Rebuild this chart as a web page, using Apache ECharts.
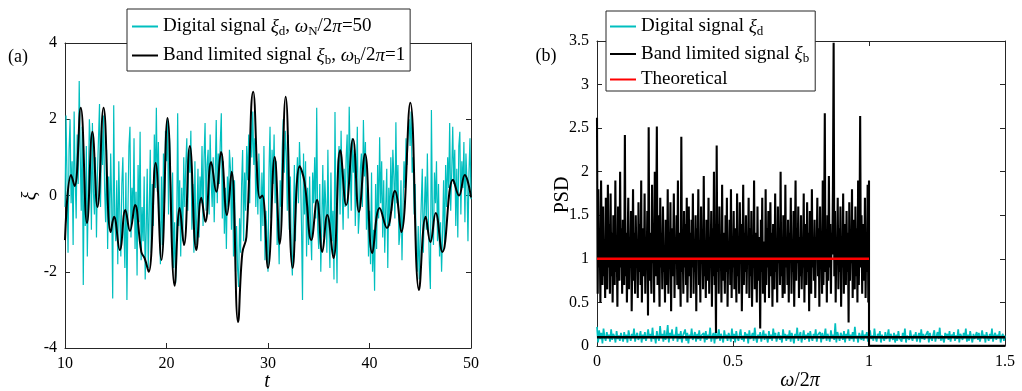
<!DOCTYPE html>
<html><head><meta charset="utf-8">
<script src="https://cdn.jsdelivr.net/npm/echarts@6/dist/echarts.min.js"></script>
<style>html,body{margin:0;padding:0;background:#fff}#c{width:1022px;height:391px}</style>
</head><body><div id="c"></div>
<script>
// ---------- Panel (a): time series ----------
const tStart = 10, tStep = 0.1;
// Digital signal xi_d, sampled every 0.1 from t=10 to 50
const digitalSignal = [
-0.3,2.1,0.4,-1.5,1.2,2.0,-0.2,0.9,-1.3,2.2,
0.5,-0.6,1.6,0.3,3.0,1.1,-0.4,1.8,-2.35,0.7,
-0.8,1.3,-1.6,0.2,2.0,1.4,-0.9,1.9,0.1,-0.5,
1.0,-1.1,0.6,1.5,2.4,-0.3,1.7,0.8,2.1,0.2,
-0.7,1.2,-1.4,0.5,-0.9,1.1,-0.2,-2.7,2.37,-0.6,
-1.2,0.4,-1.8,0.9,-0.5,-1.6,0.3,1.0,-0.8,-1.9,
0.6,-2.74,-0.4,1.3,1.8,-1.1,0.2,-0.6,1.5,-1.4,
0.1,-2.1,0.8,-0.7,1.67,-1.7,-0.3,-1.2,0.5,-2.2,
-0.9,0.7,-1.9,-0.4,1.2,-1.5,0.3,-0.8,1.6,0.2,
2.3,0.1,1.4,-0.6,-1.8,0.5,-1.3,1.1,-0.2,1.7,
0.9,2.0,-0.5,1.5,0.3,-1.4,0.6,-1.9,-0.7,-2.3,
-1.0,2.16,-0.8,0.4,-1.6,0.2,-1.2,1.0,-0.3,0.8,
1.5,-0.4,1.2,0.6,1.7,-0.9,0.3,-1.5,0.9,-1.3,
-0.6,0.7,-1.1,0.5,-0.2,1.3,-0.8,1.0,1.9,-0.4,
0.8,1.2,-0.5,1.6,0.4,-0.3,1.0,-0.7,0.6,1.98,
-0.2,1.1,0.3,1.4,2.16,-0.6,0.9,-1.0,0.2,-1.4,
0.5,-0.3,1.2,0.7,-0.9,1.0,-1.6,0.4,-2.0,-0.8,
-1.9,-2.4,-0.6,-1.5,0.3,1.19,-1.2,0.6,-0.4,1.3,
0.4,1.6,-0.2,2.06,1.0,2.2,0.8,1.5,-0.3,0.9,
-0.5,1.1,0.2,-1.2,0.6,-0.8,1.3,-1.7,-0.4,-1.1,
-2.0,0.7,1.8,-0.6,1.2,0.3,1.6,-0.2,0.9,-1.3,
-0.7,-1.8,0.4,-0.3,1.2,2.0,0.6,1.7,1.1,-0.4,
1.59,-0.9,0.5,-1.5,-2.1,-0.6,0.8,-1.2,0.3,1.0,
-0.2,1.4,0.6,-0.8,-2.74,1.1,-0.5,0.9,-1.6,0.2,
-1.3,0.5,-0.9,-1.7,0.6,-0.2,1.0,-0.6,2.3,-0.9,
-1.4,0.3,-2.0,-0.7,0.8,-1.1,0.4,-0.3,-1.5,1.2,
-0.8,-1.9,0.6,-1.2,-0.4,-2.2,2.19,-0.6,-2.3,0.9,
1.3,-0.5,1.7,0.2,-0.9,0.7,-0.3,1.0,1.6,-0.6,
2.33,0.9,-0.4,1.5,0.6,1.2,-0.8,0.3,1.8,-1.0,
-0.5,0.7,1.1,-0.3,1.98,0.5,1.4,-0.9,0.2,-1.6,
-0.4,-1.8,0.6,-2.0,-0.9,-2.5,0.3,-1.4,0.8,-0.6,
1.53,-0.2,0.9,-1.1,0.4,-1.5,-0.3,0.7,-1.9,0.2,
-0.8,1.0,-0.4,1.2,0.5,-0.6,1.92,-0.2,0.8,-1.3,
-1.0,0.4,-1.7,-0.3,0.9,0.2,1.5,0.8,1.7,2.0,
1.3,2.2,0.6,1.0,-0.5,0.3,-1.4,-2.0,-0.8,-2.2,
-1.1,-0.2,0.7,-1.5,-0.4,0.5,-0.9,1.1,-0.6,-1.8,
-2.45,2.24,-0.5,-1.3,0.6,-0.2,0.9,-1.2,0.3,-1.6,
-0.7,-2.0,-1.0,0.4,-1.4,0.8,-0.3,1.0,0.2,1.9,
-0.4,0.6,1.8,0.3,1.2,-0.8,0.7,-1.1,1.3,1.67,
-0.5,0.9,0.2,1.4,-0.7,1.1,0.4,-1.2,0.6,1.5,
-0.1];
// Band limited signal xi_b: read turning points
const bandT = [10.0,10.6,10.95,11.55,12.17,12.7,13.2,13.8,14.5,14.83,15.4,15.95,16.4,16.9,17.52,17.85,18.25,18.93,19.5,20.1,
20.8,21.3,21.72,22.3,22.94,23.43,23.83,24.4,24.9,25.37,25.96,26.42,27.05,27.47,27.87,28.55,29.2,29.44,30.0,30.66,
31.15,31.74,32.43,33.12,33.6,34.27,34.83,35.35,35.84,36.45,37.12,37.7,38.37,38.96,39.56,40.28,41.0,41.72,42.5,43.13,
44.02,44.88,45.54,46.0,46.52,47.18,48.23,48.82,49.38,50.0];
const bandV = [-1.17,0.54,0.25,2.30,-0.72,1.67,-0.30,2.30,-0.96,-0.56,-1.43,-0.38,-0.93,-0.25,-1.48,-1.65,-2.0,0.85,-1.69,2.03,
-2.37,-0.33,-1.30,1.30,-1.43,-0.06,-0.69,0.88,0.10,1.14,-0.51,0.62,-3.32,-1.51,-1.09,2.72,-0.07,0.0,-1.9,1.01,
-1.27,2.59,-1.9,0.77,0.35,-1.17,-0.12,-1.48,-0.51,-1.64,1.19,-0.25,1.48,-0.43,1.09,-1.51,-0.33,-0.85,0.12,-0.96,
2.43,-2.48,-0.56,-1.22,-0.46,-1.48,0.41,0.0,0.54,-0.05];

// ---------- Panel (b): PSD ----------
const psdBStep = 0.0025; // band limited PSD, 0..1
const psdBand = [
2.62,0.6,1.8,0.9,1.3,0.5,1.9,1.1,0.7,1.6,0.8,1.2,0.55,1.7,1.0,0.65,1.85,0.9,1.4,0.6,
1.75,0.8,1.3,0.5,1.5,1.0,0.7,1.9,0.85,1.2,0.45,1.6,1.1,0.75,2.0,0.9,1.35,0.6,1.45,1.0,
0.7,2.42,0.8,1.3,0.5,1.15,1.7,0.65,1.25,0.9,1.55,0.4,1.05,1.8,0.75,1.3,0.6,1.5,0.95,1.2,
0.55,1.65,0.85,1.4,0.7,1.9,0.5,1.1,1.35,0.8,1.75,0.6,1.2,0.9,1.55,0.35,2.51,0.75,1.3,1.0,
0.6,1.85,0.95,1.4,0.5,2.0,0.8,1.25,2.52,0.7,1.5,1.05,0.45,1.7,0.9,1.3,0.65,1.6,0.85,1.15,
0.5,1.45,1.0,0.7,1.8,0.6,1.2,0.9,1.65,0.4,1.35,0.8,1.1,1.75,0.55,1.25,0.95,1.5,0.7,1.9,
0.65,1.3,1.0,0.45,2.4,0.85,1.15,0.6,1.55,0.9,1.4,0.7,1.7,0.5,1.05,1.6,0.8,1.3,0.55,1.45,
0.9,1.75,0.6,1.2,0.85,1.5,0.4,1.35,1.0,1.8,0.7,1.15,0.5,1.6,0.95,1.3,0.65,1.95,0.8,1.1,
0.55,1.45,1.0,0.75,1.7,0.6,1.25,0.9,1.55,0.45,1.35,0.8,2.0,0.7,1.1,0.15,2.3,0.85,1.4,0.6,
1.6,0.9,1.2,0.5,1.85,0.75,1.3,1.0,0.6,1.5,0.85,1.7,0.45,1.15,0.95,1.45,0.7,1.8,0.55,1.25,
0.9,1.55,0.65,1.35,1.0,0.5,1.75,0.8,1.2,0.6,1.65,0.95,1.4,0.4,1.1,1.85,0.7,1.3,0.85,1.5,
0.6,1.2,1.0,1.7,0.55,1.35,0.8,1.55,0.45,1.15,0.9,1.9,0.65,1.3,1.05,0.5,1.6,0.75,1.25,0.95,
0.2,1.45,0.85,1.7,0.6,1.2,1.0,0.5,1.8,0.7,1.35,0.9,1.55,0.55,1.1,1.65,0.8,1.3,0.45,1.4,
1.0,0.65,1.75,0.85,1.2,0.5,1.6,0.95,1.35,0.7,2.0,0.8,1.15,0.55,1.5,1.05,0.6,1.85,0.9,1.25,
0.7,1.45,0.5,1.3,1.0,1.7,0.6,1.2,0.85,1.55,0.45,1.1,1.9,0.75,1.35,0.95,1.6,0.55,1.25,0.8,
1.5,0.65,1.15,0.9,1.75,0.5,1.4,1.0,0.7,1.65,0.85,1.3,0.4,1.55,1.05,0.6,1.8,0.9,1.2,0.75,
1.45,0.55,1.25,1.0,1.7,0.8,1.35,0.45,1.6,0.95,1.15,0.6,1.9,0.7,1.3,2.67,0.85,1.2,0.5,1.5,
0.75,1.95,0.9,1.4,0.6,1.3,1.05,1.85,3.48,0.8,1.55,0.5,1.2,0.95,1.7,0.65,1.35,0.85,1.6,0.45,
1.25,0.9,1.75,0.6,1.4,1.0,0.7,1.55,0.85,1.3,0.27,1.65,0.75,1.2,0.95,1.8,0.55,1.45,1.05,0.65,
1.6,0.8,1.35,0.5,1.9,0.7,1.25,2.64,0.9,1.5,0.6,1.4,1.05,0.75,1.7,0.55,1.3,0.85,1.85,0.5,
1.9];
const psdBandTailX = [1.0, 1.5];
const psdBandTailV = [0.003, 0.003];
const psdDStep = 0.004; // digital PSD, 0..1.5
const psdDigital = [
0.22,0.04,0.18,0.08,0.15,0.03,0.2,0.1,0.06,0.16,0.09,0.13,0.05,0.19,0.07,0.14,0.11,0.04,0.17,0.08,0.12,0.06,0.15,0.1,0.05,
0.16,0.08,0.13,0.04,0.18,0.11,0.06,0.14,0.09,0.2,0.05,0.12,0.15,0.07,0.1,0.17,0.04,0.13,0.08,0.16,0.06,0.11,0.19,0.09,0.14,
0.05,0.21,0.08,0.12,0.03,0.17,0.1,0.06,0.23,0.09,0.14,0.05,0.18,0.07,0.12,0.24,0.04,0.15,0.09,0.19,0.06,0.13,0.1,0.22,0.05,
0.14,0.08,0.17,0.04,0.12,0.1,0.19,0.06,0.15,0.03,0.13,0.09,0.2,0.07,0.11,0.16,0.05,0.14,0.08,0.18,0.06,0.12,0.1,0.15,0.04,
0.17,0.07,0.13,0.09,0.21,0.05,0.11,0.15,0.03,0.16,0.08,0.12,0.19,0.06,0.14,0.1,0.04,0.18,0.09,0.13,0.06,0.15,0.11,0.05,0.2,
0.08,0.14,0.04,0.17,0.1,0.06,0.13,0.19,0.07,0.12,0.05,0.16,0.09,0.14,0.03,0.18,0.08,0.11,0.15,0.06,0.21,0.1,0.04,0.13,0.09,
0.16,0.05,0.12,0.18,0.07,0.14,0.1,0.04,0.17,0.08,0.13,0.06,0.2,0.09,0.15,0.05,0.11,0.16,0.07,0.12,0.04,0.19,0.1,0.14,0.06,
0.13,0.08,0.18,0.05,0.15,0.1,0.03,0.14,0.09,0.21,0.06,0.12,0.16,0.04,0.11,0.18,0.07,0.13,0.09,0.15,0.05,0.17,0.1,0.06,0.14,
0.09,0.19,0.05,0.13,0.11,0.16,0.04,0.15,0.08,0.12,0.2,0.06,0.14,0.1,0.05,0.18,0.09,0.13,0.07,0.26,0.04,0.16,0.11,0.06,0.15,
0.12,0.07,0.17,0.04,0.14,0.1,0.19,0.06,0.13,0.08,0.16,0.05,0.22,0.09,0.12,0.04,0.15,0.11,0.07,0.18,0.06,0.13,0.1,0.16,0.05,
0.03,0.18,0.08,0.12,0.06,0.2,0.1,0.05,0.14,0.09,0.17,0.04,0.13,0.11,0.06,0.16,0.08,0.12,0.19,0.05,0.14,0.1,0.07,0.15,0.04,
0.13,0.06,0.17,0.09,0.11,0.05,0.15,0.08,0.2,0.04,0.12,0.14,0.07,0.18,0.1,0.06,0.13,0.09,0.16,0.05,0.11,0.15,0.04,0.19,0.08,
0.14,0.07,0.12,0.1,0.17,0.04,0.15,0.09,0.06,0.13,0.18,0.05,0.11,0.16,0.08,0.21,0.06,0.12,0.1,0.04,0.15,0.09,0.14,0.07,0.17,
0.05,0.13,0.1,0.16,0.06,0.12,0.08,0.19,0.04,0.14,0.11,0.07,0.15,0.09,0.2,0.05,0.13,0.06,0.17,0.1,0.04,0.14,0.08,0.12,0.16,
0.07,0.15,0.05,0.11,0.18,0.09,0.13,0.04,0.16,0.1,0.06,0.14,0.08,0.2,0.05,0.12,0.15,0.07,0.13,0.09,0.17,0.04,0.11,0.14,0.06,
0.12];
const theoryX = [0, 1];
const theoryV = [1, 1];
const digitalLevelX = [0, 1.5];
const digitalLevelV = [0.1, 0.1];

const legendNames = {
  da: '{n|Digital signal }{g|ξ}{s|d}{n|, }{g|ω}{s|N}{n|/2}{g|π}{n|=50}',
  ba: '{n|Band limited signal }{g|ξ}{s|b}{n|, }{g|ω}{s|b}{n|/2}{g|π}{n|=1}',
  db: '{n|Digital signal }{g|ξ}{s|d}',
  bb: '{n|Band limited signal }{g|ξ}{s|b}',
  th: '{n|Theoretical}'
};

const FONT = 'Liberation Serif';
const AX = '#262626';
const zip = (xs, vs) => xs.map((x, i) => [x, vs[i]]);
const seq = (arr, x0, dx) => arr.map((v, i) => [+(x0 + i * dx).toFixed(5), v]);

const chart = echarts.init(document.getElementById('c'), null, {renderer: 'canvas'});
const rich = {
  n: {fontFamily: FONT, fontSize: 19, lineHeight: 24, color: '#000'},
  g: {fontFamily: FONT, fontSize: 19, lineHeight: 24, fontStyle: 'italic', color: '#000'},
  s: {fontFamily: FONT, fontSize: 13, lineHeight: 14, color: '#000', padding: [10, 0, 0, 0]}
};
const richBig = {
  n: {fontFamily: FONT, fontSize: 20, color: '#000'},
  g: {fontFamily: FONT, fontSize: 20, fontStyle: 'italic', color: '#000'}
};
function ax(gi, pos, min, max, iv, labels) {
  return {type: 'value', gridIndex: gi, position: pos, min, max, interval: iv,
    axisLine: {show: true, onZero: false, lineStyle: {color: AX, width: 1}},
    axisTick: {show: true, inside: true, length: 5, lineStyle: {color: AX}},
    axisLabel: {show: labels, fontFamily: FONT, fontSize: 16, color: '#000', margin: 8},
    splitLine: {show: false}};
}
const lineBase = {type: 'line', showSymbol: false, symbol: 'none', animation: false, silent: true};
const legendBase = {orient: 'vertical', icon: 'rect', itemWidth: 26, itemHeight: 2,
  backgroundColor: '#fff', borderColor: AX, borderWidth: 1, borderRadius: 0,
  formatter: n => legendNames[n], textStyle: {rich}, selectedMode: false};

chart.setOption({
  animation: false,
  backgroundColor: '#fff',
  grid: [
    {left: 65, right: 551, top: 43, bottom: 43},
    {left: 597, right: 17, top: 41, bottom: 45}
  ],
  xAxis: [
    ax(0, 'bottom', 10, 50, 10, true), ax(0, 'top', 10, 50, 10, false),
    ax(1, 'bottom', 0, 1.5, 0.5, true), ax(1, 'top', 0, 1.5, 0.5, false)
  ],
  yAxis: [
    ax(0, 'left', -4, 4, 2, true), ax(0, 'right', -4, 4, 2, false),
    ax(1, 'left', 0, 3.5, 0.5, true), ax(1, 'right', 0, 3.5, 0.5, false)
  ],
  legend: [
    Object.assign({}, legendBase, {data: ['da', 'ba'], left: 127, top: 9, itemGap: 6, padding: [6, 5, 4, 5]}),
    Object.assign({}, legendBase, {data: ['db', 'bb', 'th'], left: 606, top: 11, itemGap: 4.5, padding: [4, 6, 2, 4]})
  ],
  series: [
    Object.assign({}, lineBase, {name: 'da', xAxisIndex: 0, yAxisIndex: 0,
      data: seq(digitalSignal, tStart, tStep), lineStyle: {color: '#00bfbf', width: 1.2}, itemStyle: {color: '#00bfbf'}}),
    Object.assign({}, lineBase, {name: 'ba', xAxisIndex: 0, yAxisIndex: 0, smooth: 0.45,
      data: zip(bandT, bandV), lineStyle: {color: '#000', width: 2}, itemStyle: {color: '#000'}}),
    Object.assign({}, lineBase, {name: 'db', xAxisIndex: 2, yAxisIndex: 2,
      data: seq(psdDigital, 0, psdDStep), lineStyle: {color: '#00bfbf', width: 1.7}, itemStyle: {color: '#00bfbf'}}),
    Object.assign({}, lineBase, {name: 'bb', xAxisIndex: 2, yAxisIndex: 2,
      data: seq(psdBand, 0, psdBStep).concat(zip(psdBandTailX, psdBandTailV)), lineStyle: {color: '#000', width: 2.1}, itemStyle: {color: '#000'}}),
    Object.assign({}, lineBase, {name: 'th', xAxisIndex: 2, yAxisIndex: 2,
      data: zip(theoryX, theoryV), lineStyle: {color: '#ff0000', width: 2.5}, itemStyle: {color: '#ff0000'}}),
    Object.assign({}, lineBase, {name: 'lvl', xAxisIndex: 2, yAxisIndex: 2,
      data: zip(digitalLevelX, digitalLevelV), lineStyle: {color: '#000', width: 2.5}, itemStyle: {color: '#000'}})
  ],
  graphic: [
    {type: 'text', x: 18, y: 57, style: {text: '(a)', font: '18px "Liberation Serif"', fill: '#000', align: 'center', verticalAlign: 'middle'}},
    {type: 'text', x: 546, y: 56, style: {text: '(b)', font: '18px "Liberation Serif"', fill: '#000', align: 'center', verticalAlign: 'middle'}},
    {type: 'text', x: 31, y: 196, rotation: Math.PI / 2, style: {text: 'ξ', font: 'italic 20px "Liberation Serif"', fill: '#000', align: 'center', verticalAlign: 'middle'}},
    {type: 'text', x: 563, y: 195, rotation: Math.PI / 2, style: {text: 'PSD', font: '20px "Liberation Serif"', fill: '#000', align: 'center', verticalAlign: 'middle'}},
    {type: 'text', x: 267, y: 382, style: {text: 't', font: 'italic 20px "Liberation Serif"', fill: '#000', align: 'center', verticalAlign: 'middle'}},
    {type: 'text', x: 800, y: 381, style: {text: '{g|ω}{n|/2}{g|π}', rich: richBig, align: 'center', verticalAlign: 'middle'}}
  ]
});
</script>
</body></html>
